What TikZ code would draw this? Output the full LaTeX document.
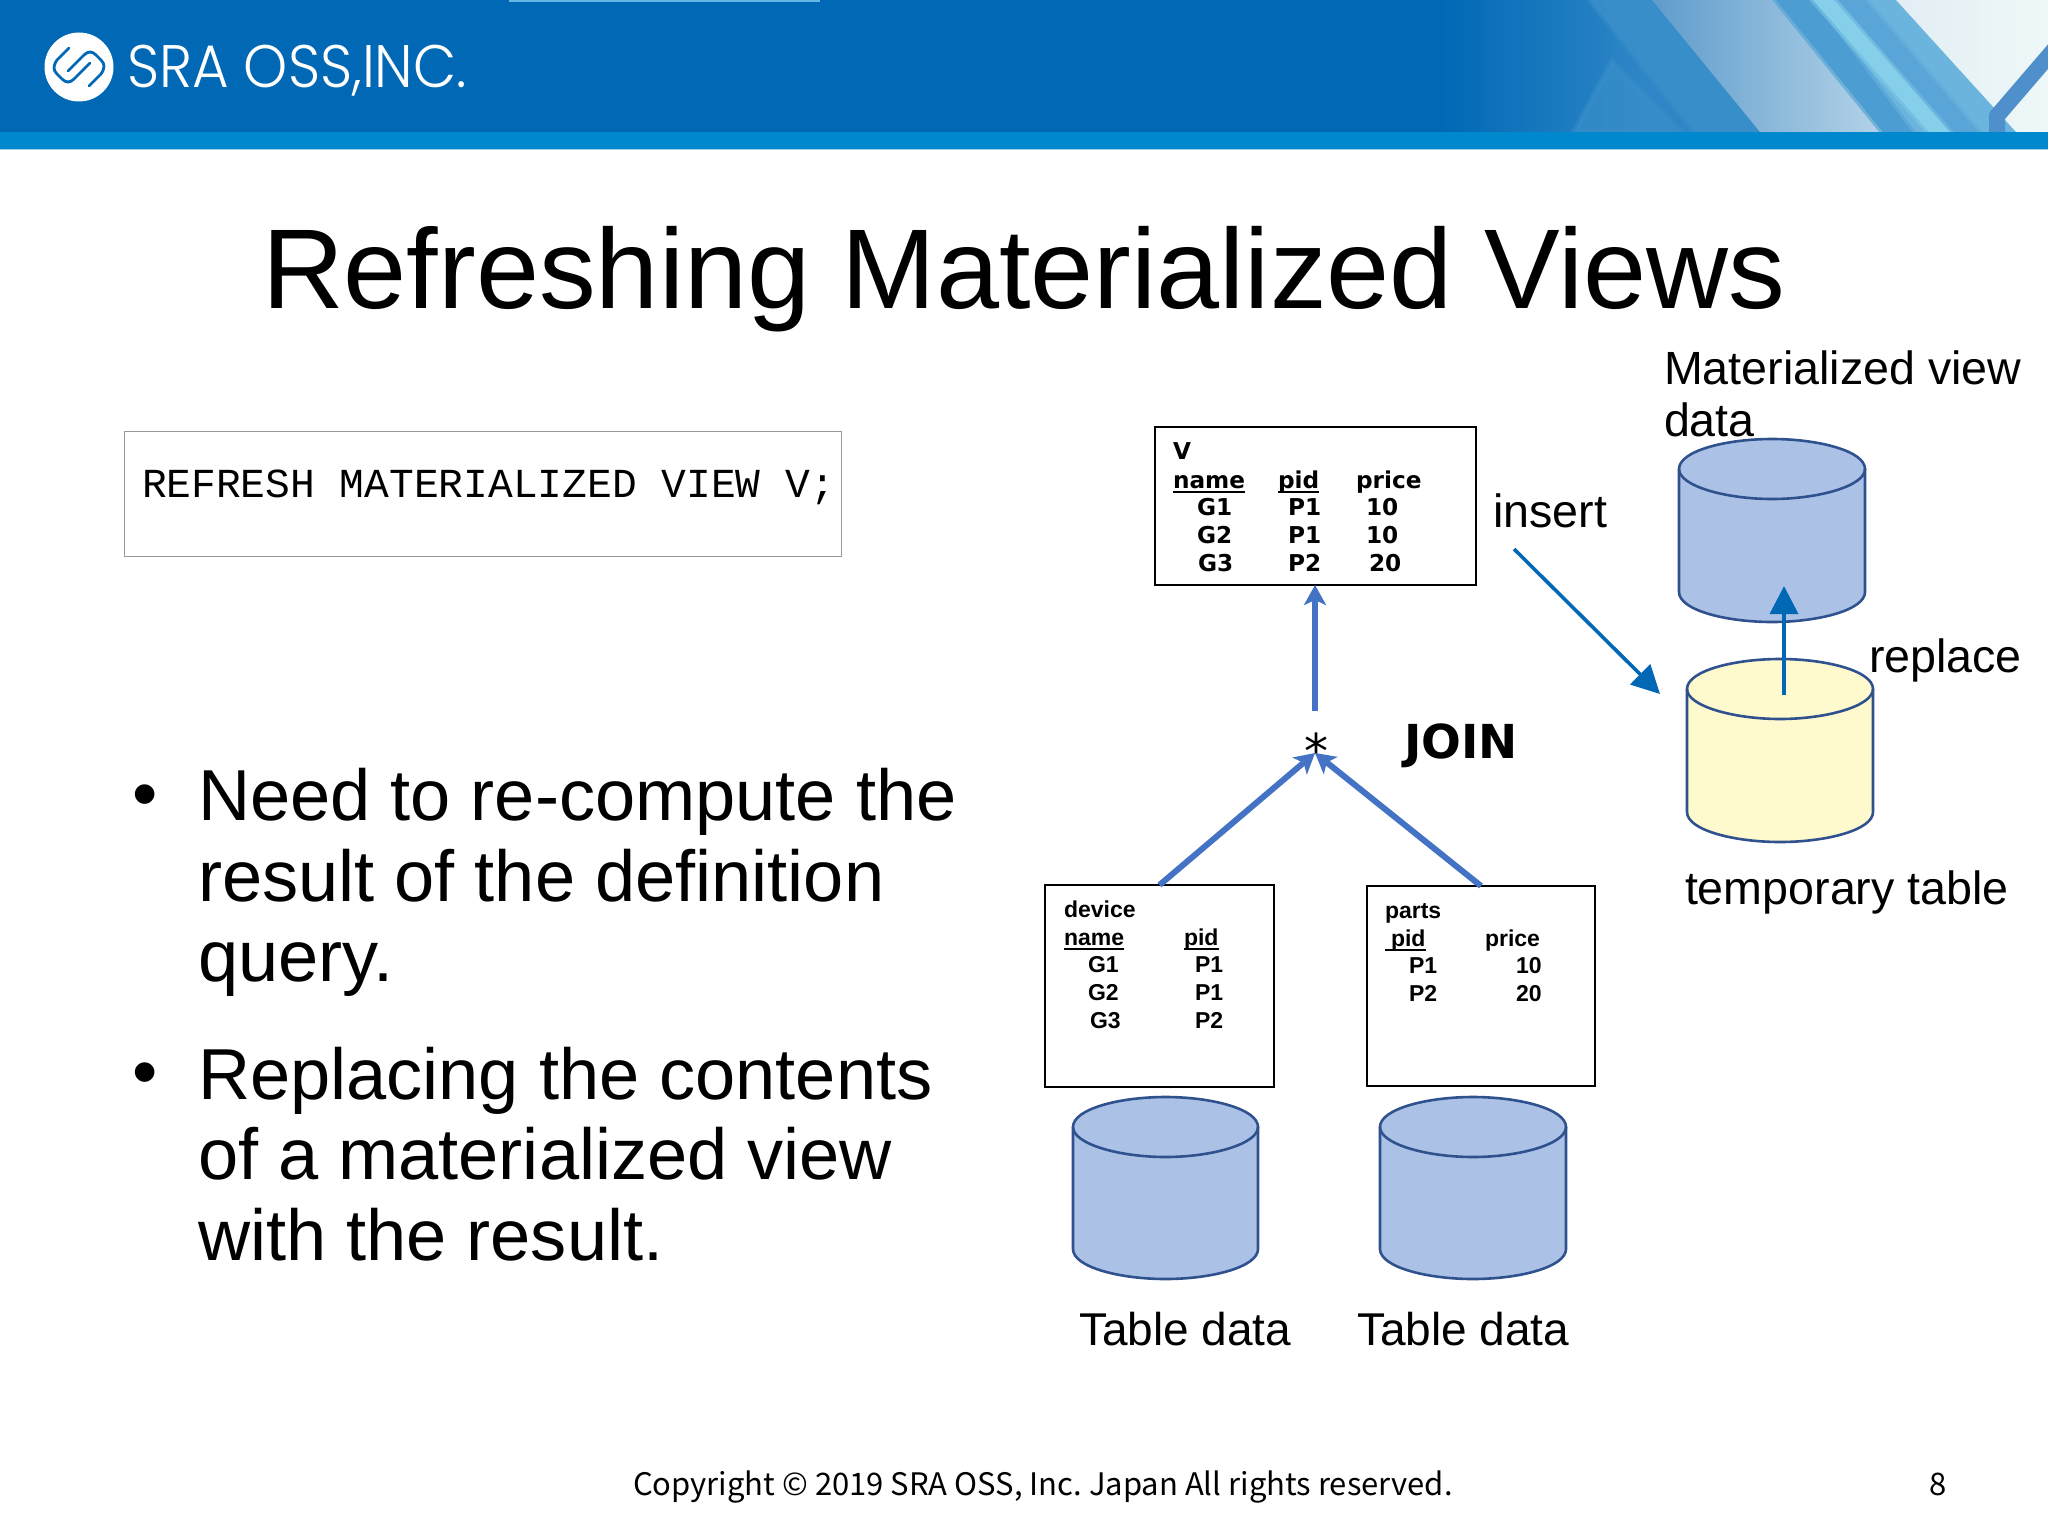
\documentclass[tikz,border=0pt]{standalone}
\usepackage{fontspec}
\usetikzlibrary{arrows.meta}
\setmainfont{Liberation Sans}
\setmonofont{Liberation Mono}
\newfontfamily\dejab{DejaVu Sans}
\newfontfamily\footfont{Noto Sans CJK JP}
\newfontfamily\logofont{Poppins Light}
\definecolor{hdr}{HTML}{0068B5}
\definecolor{band}{HTML}{0088CE}
\definecolor{cylblue}{HTML}{ABC2E6}
\definecolor{cylyel}{HTML}{FFFACD}
\definecolor{cyledge}{HTML}{2F528F}
\definecolor{joinarrow}{HTML}{4472C4}
\definecolor{flowarrow}{HTML}{0068B5}
\definecolor{hmid}{HTML}{3A90CA}
\definecolor{hend}{HTML}{2E86C6}
\definecolor{hpl}{HTML}{5F9CCC}
\definecolor{hpr}{HTML}{B4D3E8}
\definecolor{hst}{HTML}{6AB4DE}
\definecolor{hlt}{HTML}{86CFEA}
\definecolor{hdk}{HTML}{4C9DD2}
\definecolor{hdl}{HTML}{5AA5D8}
\definecolor{hwl}{HTML}{E2EEF4}
\definecolor{hwr}{HTML}{EEF8F8}
\definecolor{hv}{HTML}{4F8FCC}
\newcommand{\ulx}[1]{{\setbox0=\hbox{#1}\copy0\llap{\rule[-2.5pt]{\wd0}{1pt}}}}
\newcommand{\dbcyl}[5]{% left, right, top, bottom, colour
  \draw[cyl,fill=#5] (#1,#3+30) -- (#1,#4-30) .. controls (#1,#4-12) and ({#1+(#2-#1)*0.25},#4) .. ({(#1+#2)/2},#4)
     .. controls ({#1+(#2-#1)*0.75},#4) and (#2,#4-12) .. (#2,#4-30) -- (#2,#3+30)
     .. controls (#2,#3+12) and ({#1+(#2-#1)*0.75},#3) .. ({(#1+#2)/2},#3)
     .. controls ({#1+(#2-#1)*0.25},#3) and (#1,#3+12) .. cycle;
  \draw[cyl] (#1,#3+30) .. controls (#1,#3+47) and ({#1+(#2-#1)*0.25},#3+60) .. ({(#1+#2)/2},#3+60)
     .. controls ({#1+(#2-#1)*0.75},#3+60) and (#2,#3+47) .. (#2,#3+30);
}
\newcommand{\vcell}[4]{\node[cell,font=\dejab\bfseries\fontsize{11.6pt}{13pt}\selectfont] (#1) at (#2,#3) {#4};}
\newcommand{\tcell}[4]{\node[cell,font=\bfseries\fontsize{11.5pt}{13pt}\selectfont] (#1) at (#2,#3) {#4};}
\tikzset{
  lbl/.style={anchor=base west,inner sep=0pt,outer sep=0pt},
  cell/.style={lbl},
  rellabel/.style={lbl,font=\fontsize{23.3pt}{26pt}\selectfont},
  tablelabel/.style={lbl,font=\fontsize{23pt}{26pt}\selectfont},
  bullettext/.style={lbl,font=\fontsize{36.1pt}{40pt}\selectfont},
  tablebox/.style={draw=black,line width=1pt,fill=white,inner sep=0pt,outer sep=0pt,anchor=north west},
  cyl/.style={draw=cyledge,line width=1.3pt},
  joinline/.style={draw=joinarrow,line width=3pt,-{Stealth[length=10pt,width=11pt,inset=2.5pt]}},
  flowline/.style={draw=flowarrow,line width=1.8pt,-{Triangle[length=14pt,width=14pt]}},
  soft/.style={fill=#1,draw=#1,draw opacity=.45,line width=3pt},
}
\begin{document}
\begin{tikzpicture}[x=0.5pt,y=-0.5pt]
\useasboundingbox (0,0) rectangle (2048,1536);
\fill[white] (0,0) rectangle (2048,1536);
% header
\fill[hdr] (0,0) rectangle (2048,132);
\begin{scope}
\clip (0,0) rectangle (2048,132);
\fill[left color=hdr,right color=hend] (1440,0) rectangle (1640,132);
\fill[hend] (1640,0) rectangle (1800,132);
\fill[soft=hmid,fill opacity=.8] (1590,0) -- (1652,0) -- (1760,132) -- (1695,132) -- cycle;
\fill[soft=hmid,fill opacity=.6] (1574,132) -- (1612,62) -- (1680,132) -- cycle;
\shade[left color=hpl,right color=hpr] (1652,0) -- (1776,0) -- (1883,132) -- (1760,132) -- cycle;
\path[soft=hst] (1776,0) -- (1896,0) -- (2016,132) -- (1883,132) -- cycle;
\path[soft=hdk] (1776,0) -- (1813,0) -- (1912,132) -- (1883,132) -- cycle;
\path[soft=hlt] (1813,0) -- (1838,0) -- (1950,132) -- (1929,132) -- cycle;
\path[soft=hdl] (1838,0) -- (1865,0) -- (1978,132) -- (1954,132) -- cycle;
\shade[left color=hwl,right color=hwr] (1896,0) -- (2048,0) -- (2048,132) -- (2016,132) -- cycle;
\draw[hv,line width=8pt,line join=round] (1997,140) -- (1997,116) -- (2058,45);
\end{scope}
\fill[band] (0,132) rectangle (2048,149);
\fill[band!40!white] (0,149) rectangle (2048,150);
\fill[band!60!white] (509,0) rectangle (820,2);
% logo
\fill[white] (79,67) circle [radius=34.5];
\draw[hdr,line width=1.4pt,line cap=round] (69,48) -- (57,60) .. controls (53,66) and (53,70) .. (57,74) -- (62,79) .. controls (66,83) and (70,83) .. (74,79) -- (90,63);
\draw[hdr,line width=1.4pt,line cap=round] (89,86) -- (101,74) .. controls (105,68) and (105,64) .. (101,60) -- (96,55) .. controls (92,51) and (88,51) .. (84,55) -- (68,71);
\node[lbl,text=white,font=\logofont\fontsize{30pt}{32pt}\selectfont] (logo) at (127,88) {\scalebox{0.935}[1]{SRA OSS,INC.}};
% title
\node[lbl,font=\fontsize{56.7pt}{62pt}\selectfont] (title) at (262,308) {Refreshing Materialized Views};
% command box
\node[draw=black!40,line width=.7pt,fill=white,anchor=north west,minimum width=358.5pt,minimum height=62.5pt,inner sep=0pt] (cmdbox) at (124,431) {};
\node[lbl,font=\ttfamily\fontsize{20.62pt}{24pt}\selectfont] (cmd) at (142,497) {REFRESH MATERIALIZED VIEW V;};
% bullets
\node[lbl,font=\fontsize{36.1pt}{40pt}\selectfont] (b1) at (132,818) {•};
\node[bullettext] (l1) at (198,820) {Need to re-compute the};
\node[bullettext] (l2) at (198,901) {result of the definition};
\node[bullettext] (l3) at (198,981) {query.};
\node[lbl,font=\fontsize{36.1pt}{40pt}\selectfont] (b2) at (132,1096) {•};
\node[bullettext] (l4) at (198,1099) {Replacing the contents};
\node[bullettext] (l5) at (198,1179) {of a materialized view};
\node[bullettext] (l6) at (198,1260) {with the result.};
% boxes
\node[tablebox,minimum width=160.5pt,minimum height=79pt] (vbox) at (1154.5,427) {};
\node[tablebox,minimum width=114.5pt,minimum height=101pt] (devbox) at (1045,885) {};
\node[tablebox,minimum width=114pt,minimum height=100pt] (partsbox) at (1367,886) {};
% V table
\vcell{vt}{1173}{459}{V}
\vcell{vname}{1173}{488}{\ulx{name}}
\vcell{vpid}{1278}{488}{\ulx{pid}}
\vcell{vprice}{1356}{488}{price}
\vcell{vga}{1197}{515}{G1}
\vcell{vgb}{1197}{543}{G2}
\vcell{vgc}{1198}{571}{G3}
\vcell{vpa}{1288}{515}{P1}
\vcell{vpb}{1288}{543}{P1}
\vcell{vpc}{1288}{571}{P2}
\vcell{vna}{1366}{515}{10}
\vcell{vnb}{1366}{543}{10}
\vcell{vnc}{1369}{571}{20}
% device table
\tcell{dt}{1064}{917}{device}
\tcell{dname}{1064}{945}{\ulx{name}}
\tcell{dpid}{1184}{945}{\ulx{pid}}
\tcell{dga}{1088}{972}{G1}
\tcell{dgb}{1088}{1000}{G2}
\tcell{dgc}{1090}{1028}{G3}
\tcell{dpa}{1195}{972}{P1}
\tcell{dpb}{1195}{1000}{P1}
\tcell{dpc}{1195}{1028}{P2}
% parts table
\tcell{pt}{1385}{918}{parts}
\tcell{ppid}{1385}{946}{\ulx{\hspace{3pt}pid}}
\tcell{pprice}{1485}{946}{price}
\tcell{ppa}{1409}{973}{P1}
\tcell{ppb}{1409}{1001}{P2}
\tcell{pna}{1516}{973}{10}
\tcell{pnb}{1516}{1001}{20}
% cylinders
\dbcyl{1073}{1258}{1097}{1279}{cylblue}
\dbcyl{1380}{1566}{1097}{1279}{cylblue}
\dbcyl{1679}{1865}{439}{622}{cylblue}
\dbcyl{1687}{1873}{659}{842}{cylyel}
% labels
\node[rellabel] (mv1) at (1664,384) {Materialized view};
\node[rellabel] (mv2) at (1664,436) {data};
\node[rellabel] (ins) at (1493,527) {insert};
\node[rellabel] (rep) at (1869,672) {replace};
\node[rellabel] (tmp) at (1685,904) {temporary table};
\node[tablelabel] (td1) at (1079,1345) {Table data};
\node[tablelabel] (td2) at (1357,1345) {Table data};
\node[lbl,font=\dejab\bfseries\fontsize{23.4pt}{26pt}\selectfont] (join) at (1404,758) {JOIN};
% join star and arrows
\node[inner sep=0pt,outer sep=0pt,minimum width=20pt,minimum height=10pt] (star) at (1315,743) {};
\node[lbl,font=\dejab\fontsize{24pt}{26pt}\selectfont] (starglyph) at (1304,768) {*};
\draw[joinline,shorten <=11pt] (star.north) -- (vbox.south);
\draw[joinline] (devbox.north) -- (star.south);
\draw[joinline] (partsbox.north) -- (star.south);
% flow arrows
\coordinate (insfrom) at (1514,549);
\coordinate (insto) at (1660,694);
\coordinate (repfrom) at (1784,695);
\coordinate (repto) at (1784,586);
\draw[flowline] (insfrom) -- (insto);
\draw[flowline] (repfrom) -- (repto);
% footer
\node[lbl,font=\footfont\fontsize{15.5pt}{18pt}\selectfont] (foot) at (633,1495) {\frenchspacing Copyright © 2019 SRA OSS, Inc. Japan All rights reserved.};
\node[lbl,font=\footfont\fontsize{15.5pt}{18pt}\selectfont] (page) at (1929,1495) {8};
\end{tikzpicture}
\end{document}
